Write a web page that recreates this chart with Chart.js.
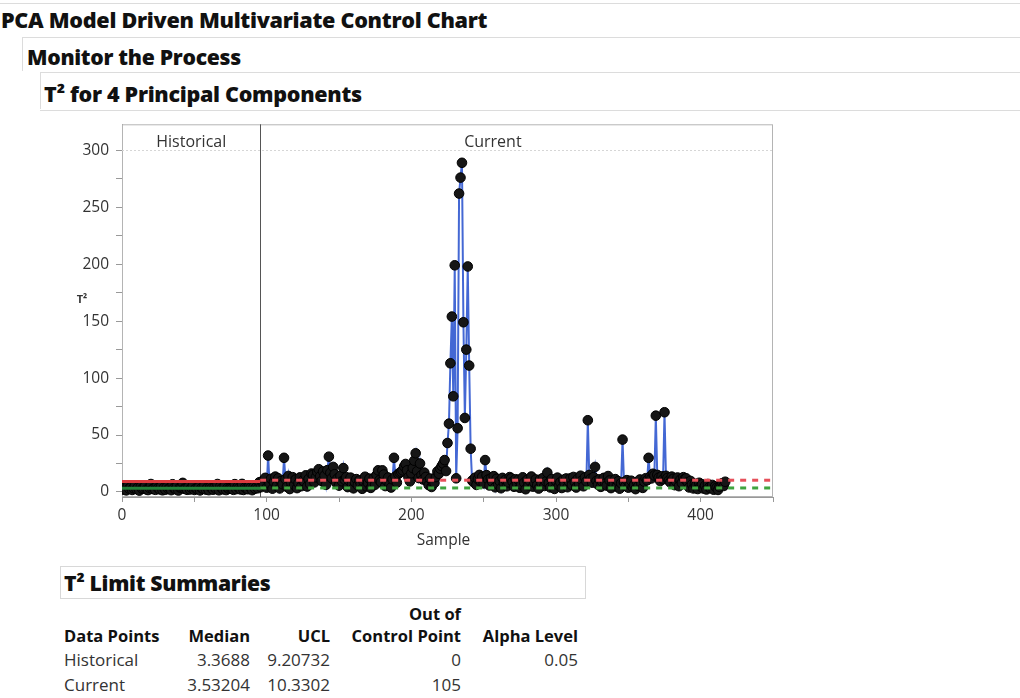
<!DOCTYPE html>
<html>
<head>
<meta charset="utf-8">
<title>PCA Model Driven Multivariate Control Chart</title>
<script src="https://cdn.jsdelivr.net/npm/chart.js@4.4.1/dist/chart.umd.min.js"></script>
<style>
  body { margin: 0; background: #fff; font-family: "Open Sans", Lato, sans-serif; color: #111; }
  #page { position: relative; width: 1020px; height: 698px; overflow: hidden; }
  .hd { position: absolute; font-weight: 800; white-space: nowrap; color: #111; font-size: 21.2px; letter-spacing: -0.3px; }
  .rule { position: absolute; background: #dcdcdc; }
  #chartBox { position: absolute; left: 40px; top: 108px; width: 760px; height: 452px; }
  table { position: absolute; left: 64px; top: 603px; border-collapse: collapse; table-layout: fixed; font-size: 17px; color: #333; }
  th, td { padding: 0; text-align: right; height: 25px; line-height: 25px; white-space: nowrap; }
  th { color: #111; font-weight: bold; font-size: 16.5px; line-height: 22px; height: 22px; }
  th:first-child, td:first-child { text-align: left; }
</style>
</head>
<body>
<div id="page">
  <div class="rule" style="left:0;top:3px;width:1020px;height:1px"></div>
  <div class="hd" style="left:1px;top:5px;font-size:21.6px">PCA Model Driven Multivariate Control Chart</div>
  <div class="rule" style="left:22px;top:37px;width:998px;height:1px"></div>
  <div class="rule" style="left:22px;top:37px;width:1px;height:34px"></div>
  <div class="hd" style="left:27px;top:42px">Monitor the Process</div>
  <div class="rule" style="left:40px;top:72px;width:980px;height:1px"></div>
  <div class="rule" style="left:40px;top:72px;width:1px;height:37px"></div>
  <div class="hd" style="left:44px;top:79px;font-size:21.5px">T² for 4 Principal Components</div>
  <div class="rule" style="left:40px;top:110px;width:980px;height:1px"></div>

  <div id="chartBox"><canvas id="t2Chart" width="760" height="452"></canvas></div>

  <div style="position:absolute;left:60px;top:566px;width:524px;height:31px;border:1px solid #d8d8d8;"></div>
  <div class="hd" style="left:64px;top:568px">T² Limit Summaries</div>
  <table id="limitTable">
    <colgroup><col style="width:110px"><col style="width:76px"><col style="width:80px"><col style="width:131px"><col style="width:117px"></colgroup>
  </table>
</div>

<script>
// T² per sample, historical (model-building) rows then current rows
const historicalT2 = [
  2.1, 3.8, 1.4, 5.2, 2.9, 4.1, 1.8, 3.3, 5.6, 2.5,
  3.9, 1.2, 4.6, 2.8, 3.1, 5.4, 2.2, 1.7, 3.6, 7.0,
  2.6, 3.0, 1.9, 5.0, 3.4, 2.3, 4.8, 1.5, 3.7, 2.0,
  4.3, 2.7, 3.2, 1.6, 6.8, 3.5, 2.4, 5.1, 1.3, 3.9,
  4.0, 8.0, 2.8, 3.1, 1.9, 4.7, 2.2, 3.6, 5.5, 1.8,
  3.0, 2.6, 4.2, 1.4, 3.4, 2.9, 5.8, 2.1, 3.7, 1.6,
  4.5, 3.3, 2.0, 4.1, 2.7, 7.0, 1.5, 4.9, 3.2, 2.3,
  5.3, 1.7, 3.5, 2.8, 3.2, 3.0, 1.9, 6.9, 2.5, 4.6,
  3.6, 2.2, 7.1, 1.8, 3.9, 3.1, 2.4, 5.0, 3.9, 1.6,
  4.6, 2.9, 4.4, 3.3, 8.6
];
const currentT2 = [
  4.2, 9.5, 6.1, 12.4, 3.8, 32.0, 7.3, 11.6, 2.9, 8.8,
  13.5, 5.4, 12.0, 3.1, 9.6, 6.8, 30.0, 11.2, 4.5, 14.1,
  2.6, 8.3, 13.0, 6.2, 10.9, 3.4, 7.7, 12.8, 5.1, 10.0,
  9.1, 14.6, 4.8, 11.5, 7.0, 16.2, 15.0, 8.4, 12.9, 17.5,
  20.0, 13.8, 9.7, 18.0, 14.4, 6.3, 19.2, 31.0, 16.8, 12.1,
  22.0, 15.6, 8.1, 11.9, 5.6, 14.2, 9.4, 21.0, 10.7, 13.0,
  4.3, 9.9, 12.6, 6.9, 3.2, 8.6, 11.3, 5.8, 10.0, 7.4,
  2.8, 9.2, 13.4, 4.9, 8.0, 11.7, 3.6, 7.1, 12.2, 6.4,
  14.9, 19.0, 10.3, 8.7, 19.0, 15.3, 5.2, 9.8, 12.7, 6.6,
  3.9, 11.1, 30.0, 13.6, 8.2, 15.8, 16.9, 17.7, 19.0, 22.5,
  24.6, 19.0, 13.0, 9.3, 16.4, 21.0, 27.5, 34.0, 18.2, 12.3,
  25.0, 14.7, 11.0, 17.0, 13.2, 9.0, 6.0, 11.8, 4.4, 7.9,
  8.0, 13.1, 18.0, 16.0, 20.5, 22.8, 25.0, 28.0, 18.4, 43.0,
  60.0, 113.0, 154.0, 84.0, 199.0, 12.0, 56.0, 262.0, 276.0, 289.0,
  149.0, 65.0, 125.0, 198.0, 111.0, 38.0, 10.0, 8.6, 12.5, 6.2,
  11.4, 15.0, 9.1, 13.3, 7.5, 28.0, 14.8, 10.9, 5.7, 12.0,
  8.9, 13.9, 4.1, 11.6, 6.7, 9.5, 3.3, 12.4, 7.8, 10.6,
  5.0, 8.4, 13.1, 12.0, 9.0, 4.6, 11.2, 7.2, 10.8, 3.7,
  6.5, 12.9, 8.1, 2.4, 10.5, 5.9, 9.7, 13.6, 4.7, 8.3,
  11.0, 6.0, 3.0, 10.9, 7.6, 12.3, 5.3, 9.2, 17.0, 8.0,
  4.0, 11.4, 6.8, 2.7, 9.6, 12.6, 5.5, 8.5, 3.5, 10.7,
  7.3, 11.9, 4.2, 9.0, 12.0, 6.1, 13.2, 8.8, 3.9, 11.5,
  7.0, 14.3, 10.2, 5.0, 12.8, 9.3, 63.0, 15.0, 11.7, 8.2,
  13.0, 22.0, 9.8, 6.4, 11.1, 4.5, 8.9, 12.4, 7.4, 5.6,
  14.0, 10.1, 3.4, 8.0, 6.9, 11.3, 4.8, 9.4, 2.9, 7.7,
  46.0, 8.6, 5.2, 10.4, 3.8, 7.1, 9.9, 4.3, 6.3, 2.5,
  8.7, 5.4, 11.0, 7.5, 3.6, 9.1, 12.1, 10.3, 30.0, 13.4,
  11.9, 16.0, 14.5, 67.0, 15.0, 12.6, 9.6, 13.8, 11.2, 70.0,
  14.2, 12.3, 10.0, 8.4, 13.5, 11.6, 6.0, 9.3, 12.7, 5.1,
  10.8, 7.9, 13.0, 11.4, 12.0, 8.5, 4.0, 9.7, 6.6, 3.1,
  7.2, 5.8, 2.6, 8.1, 4.9, 6.7, 3.0, 5.5, 2.2, 7.0,
  4.1, 3.3, 6.2, 2.0, 5.0, 3.7, 1.8, 4.6, 6.4, 7.8,
  5.3, 9.0
];

// limit summaries
const phaseNames = ["Historical", "Current"];
const medians = [3.3688, 3.53204];
const ucls = [9.20732, 10.3302];
const outOfControl = [0, 105];
const alphaLevels = ["0.05", ""];

// axis setup
const xRange = [0, 450];
const yRange = [-4.4, 322.8];
const phaseSplit = 95.5;

const samplePoints = historicalT2.map((v, i) => ({ x: i + 1, y: v }))
  .concat(currentT2.map((v, i) => ({ x: historicalT2.length + 1 + i, y: v })));
const lastSample = samplePoints.length;

function hLine(x0, x1, y) {
  return [{ x: x0, y: y }, { x: x1, y: y }];
}

const labelFont = "'Open Sans', Lato, sans-serif";

// frame, phase divider and phase captions
const phasePlugin = {
  id: "phases",
  beforeDatasetsDraw(chart) {
    const { ctx, chartArea: a, scales } = chart;
    const xs = scales.x, ys = scales.y;
    ctx.save();
    ctx.strokeStyle = "#b4b4b4";
    ctx.lineWidth = 1;
    ctx.strokeRect(a.left + 0.5, a.top + 0.5, a.width - 1, a.height - 1);

    const y300 = Math.round(ys.getPixelForValue(300)) + 0.5;
    ctx.strokeStyle = "#d6d6d6";
    ctx.setLineDash([2, 2]);
    ctx.beginPath();
    ctx.moveTo(a.left, y300);
    ctx.lineTo(a.right, y300);
    ctx.stroke();
    ctx.setLineDash([]);

    const xs0 = Math.round(xs.getPixelForValue(phaseSplit)) + 0.5;
    ctx.strokeStyle = "#555";
    ctx.beginPath();
    ctx.moveTo(xs0, a.top);
    ctx.lineTo(xs0, a.bottom);
    ctx.stroke();

    // captions sit over the middle of each phase's samples
    ctx.fillStyle = "#333";
    ctx.font = "16px " + labelFont;
    ctx.textAlign = "center";
    ctx.textBaseline = "middle";
    ctx.fillText(phaseNames[0], (a.left + xs0) / 2, a.top + 18);
    ctx.fillText(phaseNames[1], (xs0 + xs.getPixelForValue(lastSample)) / 2, a.top + 18);
    ctx.restore();
  },
  afterDraw(chart) {
    const { ctx, chartArea: a } = chart;
    ctx.save();
    ctx.fillStyle = "#333";
    ctx.textAlign = "center";
    ctx.textBaseline = "middle";
    ctx.font = "15.5px " + labelFont;
    ctx.fillText("Sample", (a.left + a.right) / 2 - 4, a.bottom + 44);
    ctx.font = "bold 11px " + labelFont;
    ctx.fillText("T²", 42, 192);
    ctx.restore();
  }
};

const ctx = document.getElementById("t2Chart").getContext("2d");
new Chart(ctx, {
  type: "line",
  data: {
    datasets: [
      { data: hLine(xRange[0], phaseSplit, ucls[0]), borderColor: "#db3a3e", borderWidth: 3, pointRadius: 0, order: 0 },
      { data: hLine(xRange[0], phaseSplit, medians[0]), borderColor: "#23803a", borderWidth: 3, pointRadius: 0, order: 0 },
      { data: hLine(phaseSplit, xRange[1], ucls[1]), borderColor: "#e6505a", borderWidth: 3, borderDash: [6, 6], pointRadius: 0, order: 0 },
      { data: hLine(phaseSplit, xRange[1], medians[1]), borderColor: "#3fa43f", borderWidth: 3, borderDash: [6, 6], pointRadius: 0, order: 0 },
      {
        label: "T²",
        data: samplePoints,
        borderColor: "#4468d4",
        borderWidth: 2,
        pointRadius: 4.8,
        pointBackgroundColor: "#161616",
        pointBorderColor: "#000",
        pointBorderWidth: 1,
        tension: 0,
        order: 1
      }
    ]
  },
  options: {
    responsive: false,
    animation: false,
    devicePixelRatio: 1,
    layout: { padding: { left: 0, right: 27, top: 9, bottom: 0 } },
    plugins: { legend: { display: false }, tooltip: { enabled: false } },
    scales: {
      x: {
        type: "linear",
        min: xRange[0],
        max: xRange[1],
        afterFit(scale) { scale.height = 63; },
        border: { color: "#999" },
        grid: { drawOnChartArea: false, tickLength: 5, tickColor: "#999" },
        ticks: {
          stepSize: 50,
          includeBounds: false,
          padding: 4,
          color: "#333",
          font: { family: labelFont, size: 15.5 },
          maxRotation: 0,
          autoSkip: false,
          callback: (v) => (v % 100 === 0 ? v : "")
        }
      },
      y: {
        type: "linear",
        min: yRange[0],
        max: yRange[1],
        afterFit(scale) { scale.width = 82; },
        border: { color: "#999" },
        grid: { drawOnChartArea: false, tickLength: 6, tickColor: "#999" },
        ticks: {
          stepSize: 25,
          includeBounds: false,
          padding: 7,
          color: "#333",
          font: { family: labelFont, size: 15.5 },
          autoSkip: false,
          callback: (v) => (v % 50 === 0 ? v : "")
        }
      }
    }
  },
  plugins: [phasePlugin]
});

// summary table below the chart
const table = document.getElementById("limitTable");
let html = "<tr><th></th><th></th><th></th><th>Out of</th><th></th></tr>" +
  "<tr><th>Data Points</th><th>Median</th><th>UCL</th><th>Control Point</th><th>Alpha Level</th></tr>";
phaseNames.forEach((name, i) => {
  html += "<tr><td>" + name + "</td><td>" + medians[i] + "</td><td>" + ucls[i] +
    "</td><td>" + outOfControl[i] + "</td><td>" + alphaLevels[i] + "</td></tr>";
});
table.insertAdjacentHTML("beforeend", html);
</script>
</body>
</html>
